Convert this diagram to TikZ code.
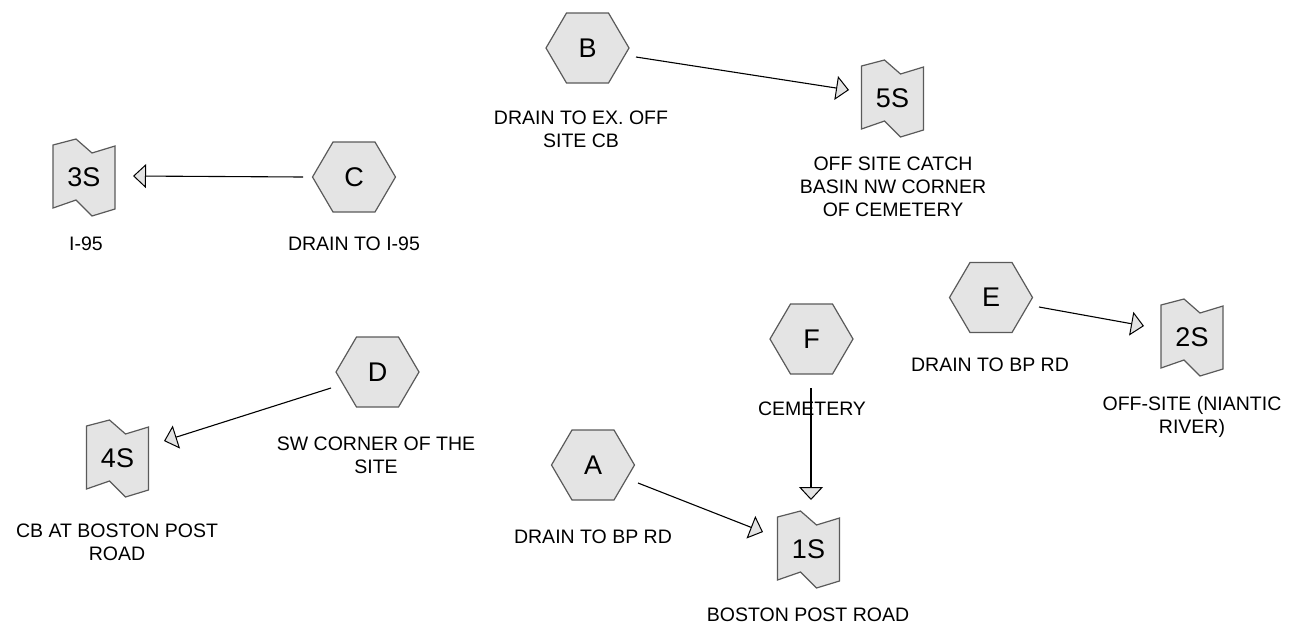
\documentclass[tikz,border=0pt]{standalone}
\usepackage{fontspec}
\setmainfont{Liberation Sans}
\usetikzlibrary{arrows.meta,calc}
\definecolor{shfill}{HTML}{E4E4E4}
\definecolor{shline}{HTML}{5A5A5A}
\tikzset{
  shapeline/.style={draw=shline,fill=shfill,line width=1.2pt,line join=miter},
  inner/.style={inner sep=0pt,font=\fontsize{27}{30}\selectfont},
  lbl/.style={align=center,inner sep=0pt,font=\fontsize{19.5}{23}\selectfont},
  flow/.style={draw=black,line width=1.1pt,-{Triangle[length=13pt,width=24pt,fill=shfill,line width=1pt]}}
}
\newcommand\myhex[3]{%
  \path[shapeline] (#2) ++(-41.5,0) -- ++(20.5,-35) -- ++(42,0) -- ++(20.5,35) -- ++(-20.5,35) -- ++(-42,0) -- cycle;
  \node[inner] (#1) at (#2) {#3};}
\newcommand\mypond[3]{%
  \path[shapeline] (#2) ++(-31,-32) -- ++(23,-6) -- ++(16,14) -- ++(23,-7) -- ++(0,63) -- ++(-23,7) -- ++(-16,-16) -- ++(-23,8) -- cycle;
  \node[inner] (#1) at (#2) {#3};}
\begin{document}
\begin{tikzpicture}[x=1pt,y=-1pt]
\useasboundingbox (0,0) rectangle (1302,633);
% subcatchments
\myhex{B}{587.5,48}{B}
\myhex{C}{354,177}{C}
\myhex{E}{991,297.5}{E}
\myhex{F}{811.5,339}{F}
\myhex{D}{377.5,372}{D}
\myhex{A}{593,465}{A}
% reaches / ponds
\mypond{5S}{892.5,98}{5S}
\mypond{3S}{84,177}{3S}
\mypond{2S}{1192,337}{2S}
\mypond{4S}{117.5,458}{4S}
\mypond{1S}{808.5,549}{1S}
% labels
\node[lbl] (lB) at (581,129) {DRAIN TO EX. OFF\\SITE CB};
\node[lbl] (l5S) at (893,187) {OFF SITE CATCH\\BASIN NW CORNER\\OF CEMETERY};
\node[lbl] (l3S) at (86,244) {I-95};
\node[lbl] (lC) at (354,244) {DRAIN TO I-95};
\node[lbl] (lE) at (990,365) {DRAIN TO BP RD};
\node[lbl] (l2S) at (1192,417) {OFF-SITE (NIANTIC\\RIVER)};
\node[lbl] (lF) at (812,409) {CEMETERY};
\node[lbl] (lD) at (376,455) {SW CORNER OF THE\\SITE};
\node[lbl] (l4S) at (117,542) {CB AT BOSTON POST\\ROAD};
\node[lbl] (lA) at (593,537) {DRAIN TO BP RD};
\node[lbl] (l1S) at (808,615) {BOSTON POST ROAD};
% connectors
\draw[flow] ($(B)+(48.5,9)$) -- ($(5S)+(-43.5,-8)$);
\draw[flow] ($(C)+(-51,0)$) -- ($(3S)+(49,-1)$);
\draw[flow] ($(E)+(48,9.5)$) -- ($(2S)+(-48,-11)$);
\draw[flow] ($(D)+(-46.5,16)$) -- ($(4S)+(46.5,-17)$);
\draw[flow] ($(A)+(45,18)$) -- ($(1S)+(-45.5,-17)$);
\draw[flow] ($(F)+(-0.5,49)$) -- ($(1S)+(2.5,-49)$);
\end{tikzpicture}
\end{document}
